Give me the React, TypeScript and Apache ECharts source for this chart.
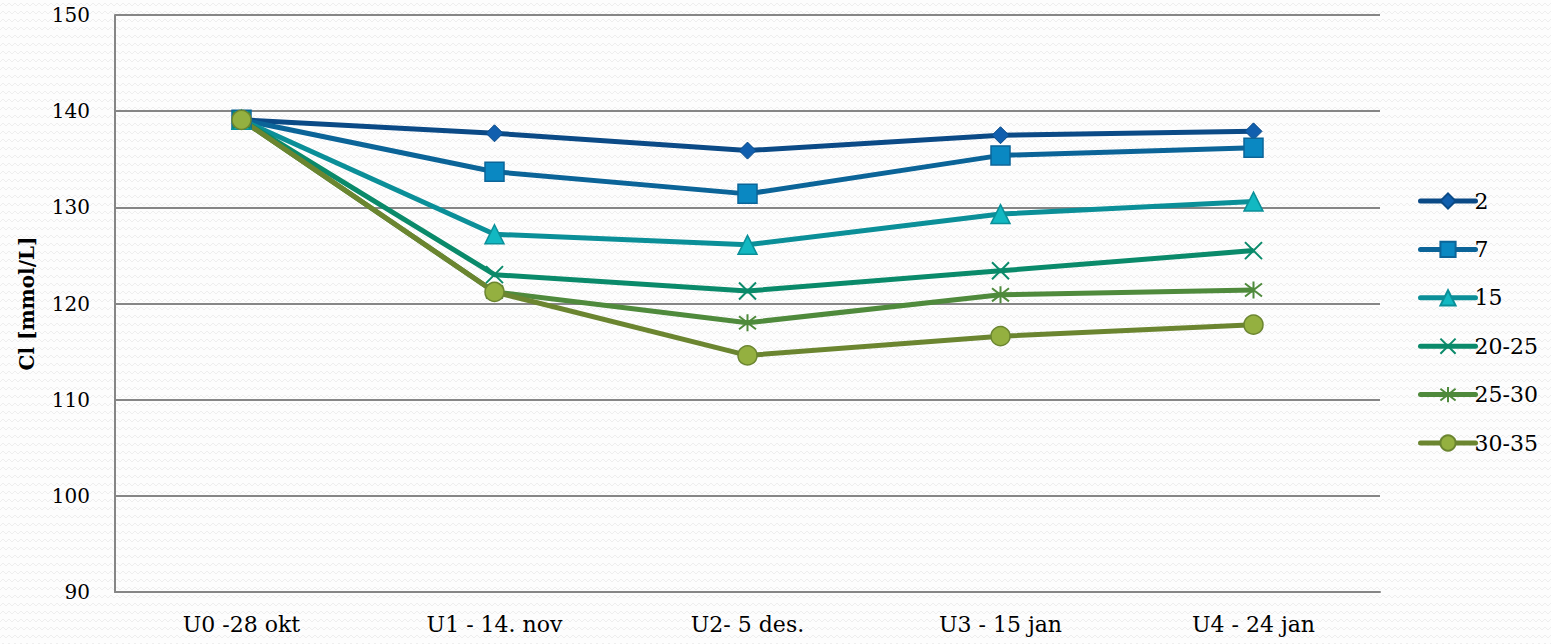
import React, { useEffect, useRef } from "react";
import * as echarts from "echarts";

// Sampling dates (x axis)
const categories = ["U0 -28 okt", "U1 - 14. nov", "U2- 5 des.", "U3 - 15 jan", "U4 - 24 jan"];

// Chloride concentration [mmol/L] per group
const s2 = [139.1, 137.7, 135.9, 137.5, 137.9];
const s7 = [139.1, 133.7, 131.4, 135.4, 136.2];
const s15 = [139.1, 127.2, 126.1, 129.3, 130.6];
const s20_25 = [139.1, 123.0, 121.3, 123.4, 125.5];
const s25_30 = [139.1, 121.2, 118.0, 120.9, 121.4];
const s30_35 = [139.1, 121.2, 114.6, 116.6, 117.8];

const seriesNames = ["2", "7", "15", "20-25", "25-30", "30-35"];

const yTicks = { min: 90, max: 150, interval: 10 };

const FONT = "DejaVu Serif";

const bgPattern =
  "url(\"data:image/svg+xml;utf8," +
  encodeURIComponent(
    "<svg xmlns='http://www.w3.org/2000/svg' width='12' height='8'><path d='M0 6 L3 3 L6 6 L9 3 L12 6' fill='none' stroke='#eeeeee' stroke-width='1'/></svg>"
  ) +
  "\")";

export default function App() {
  const ref = useRef<HTMLDivElement>(null);

  useEffect(() => {
    if (!ref.current) return;
    const chart = echarts.init(ref.current, undefined, { renderer: "svg" });

    const mk = (
      name: string,
      data: number[],
      lineColor: string,
      symbol: string,
      symbolSize: number,
      fill: string,
      border: string,
      borderWidth: number
    ) => ({
      name,
      type: "line",
      data,
      symbol,
      symbolSize,
      showAllSymbol: true,
      lineStyle: { color: lineColor, width: 5 },
      itemStyle: { color: fill, borderColor: border, borderWidth },
      emphasis: { disabled: true },
    });

    const xPath = "path://M0,0L10,10M10,0L0,10";
    const starPath = "path://M0,0L10,10M10,0L0,10M5,-1.5L5,11.5";

    chart.setOption({
      animation: false,
      backgroundColor: "transparent",
      textStyle: { fontFamily: FONT },
      grid: { left: 115, right: 171, top: 15, bottom: 52, containLabel: false },
      legend: {
        orient: "vertical",
        left: 1413,
        top: 185,
        itemWidth: 55,
        itemHeight: 19,
        itemGap: 26.4,
        lineStyle: { width: 5, cap: "round" },
        textStyle: { fontFamily: FONT, fontSize: 22, color: "#000", padding: [0, 0, 0, -6] },
        data: seriesNames,
      },
      xAxis: {
        type: "category",
        data: categories,
        boundaryGap: true,
        axisLine: { lineStyle: { color: "#868686", width: 2 } },
        axisTick: { show: false },
        axisLabel: { fontFamily: FONT, fontSize: 22, color: "#000", margin: 21 },
      },
      yAxis: {
        type: "value",
        min: yTicks.min,
        max: yTicks.max,
        interval: yTicks.interval,
        name: "Cl [mmol/L]",
        nameLocation: "middle",
        nameGap: 78,
        nameTextStyle: { fontFamily: FONT, fontSize: 20, fontWeight: "bold", color: "#000" },
        axisLine: { show: true, lineStyle: { color: "#868686", width: 2 } },
        axisTick: { show: false },
        axisLabel: { fontFamily: FONT, fontSize: 20, color: "#000", margin: 25 },
        splitLine: { lineStyle: { color: "#868686", width: 2 } },
      },
      series: [
        mk("2", s2, "#0b4a86", "diamond", 17, "#115fae", "#0b4a86", 1),
        mk("7", s7, "#0b6498", "rect", 19, "#0a88c2", "#0b6498", 1.5),
        mk("15", s15, "#0b8f98", "triangle", 19, "#12b8c2", "#0b8f98", 1.5),
        mk("20-25", s20_25, "#0a8a6a", xPath, 17, "transparent", "#0a8a6a", 2),
        mk("25-30", s25_30, "#4f8a3c", starPath, 17, "transparent", "#4f8a3c", 2),
        mk("30-35", s30_35, "#6b8530", "circle", 19, "#94b040", "#6b8530", 1.5),
      ],
    });

    return () => chart.dispose();
  }, []);

  return (
    <div
      style={{
        position: "absolute",
        left: 0,
        top: 0,
        width: 1551,
        height: 644,
        backgroundColor: "#fdfdfd",
        backgroundImage: bgPattern,
      }}
    >
      <div ref={ref} style={{ width: 1551, height: 644 }} />
    </div>
  );
}
